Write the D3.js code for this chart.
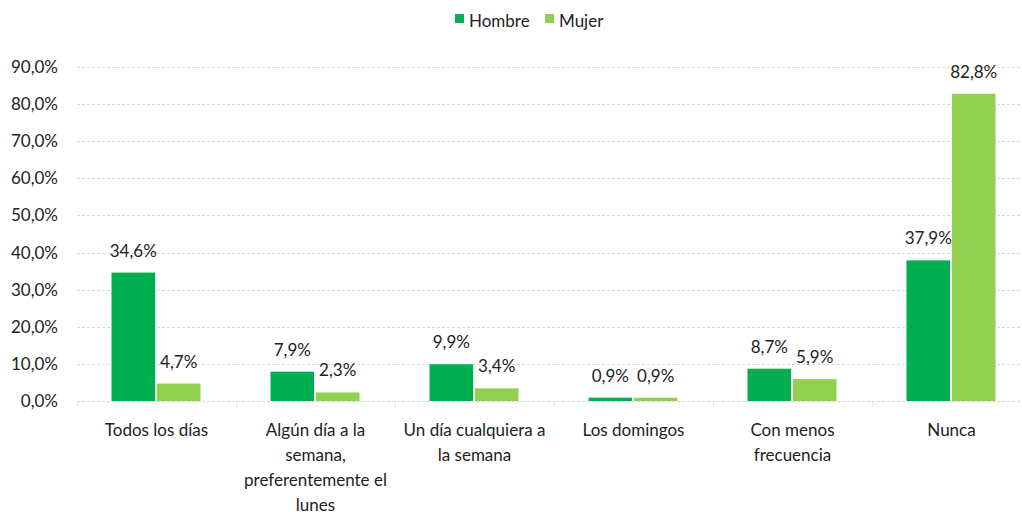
<!DOCTYPE html>
<html>
<head>
<meta charset="utf-8">
<script src="https://cdn.jsdelivr.net/npm/d3@7"></script>
<style>
  body { margin: 0; background: #fff; }
  text { font-family: Lato, "Open Sans", sans-serif; fill: #222; }
</style>
</head>
<body>
<svg id="vis"></svg>
<script>
const plotWidth = 1022;
const plotHeight = 512;

// data
const categories = ['Todos los días', 'Algún día a la\nsemana,\npreferentemente el\nlunes',
                    'Un día cualquiera a\nla semana', 'Los domingos', 'Con menos\nfrecuencia', 'Nunca'];
const seriesNames = ['Hombre', 'Mujer'];
const hombre = [34.6, 7.9, 9.9, 0.9, 8.7, 37.9];
const mujer = [4.7, 2.3, 3.4, 0.9, 5.9, 82.8];
const yTicks = [0, 10, 20, 30, 40, 50, 60, 70, 80, 90];
const colors = ['#00b050', '#92d050'];

const svg = d3.select('#vis')
            .attr('width', plotWidth)
            .attr('height', plotHeight);

const left = 77, bandW = 159;
const x = d3.scaleBand()
            .domain(categories)
            .range([left, left + bandW * categories.length])
            .paddingInner(0).paddingOuter(0);
const y = d3.scaleLinear().domain([0, 90]).range([401, 67]);
const x1 = d3.scaleBand().domain(seriesNames).range([34.5, 123.5]).paddingInner(0.04);

const fmt = v => d3.format('.1f')(v).replace('.', ',') + '%';

// gridlines
svg.append('g')
    .selectAll('line')
    .data(yTicks)
    .enter().append('line')
    .attr('x1', left).attr('x2', plotWidth)
    .attr('y1', d => Math.round(y(d)) + 0.5).attr('y2', d => Math.round(y(d)) + 0.5)
    .attr('stroke', '#d9d9d9')
    .attr('stroke-dasharray', '3,2');

// y axis labels
const yAxis = d3.axisLeft(y).tickValues(yTicks).tickFormat(fmt).tickSize(0).tickPadding(19);
svg.append('g')
    .attr('transform', `translate(${left},0)`)
    .call(yAxis)
    .call(g => g.select('.domain').remove())
    .selectAll('text')
    .style('font-size', '17px')
    .attr('fill', '#222');

// category ticks
const bounds = d3.range(categories.length + 1).map(i => left + i * bandW);
svg.append('g')
    .selectAll('line')
    .data(bounds)
    .enter().append('line')
    .attr('x1', d => d + 0.5).attr('x2', d => d + 0.5)
    .attr('y1', y(0)).attr('y2', y(0) + 6)
    .attr('stroke', '#d9d9d9')
    .attr('stroke-dasharray', '2,1');

// bars
const groups = svg.append('g')
    .selectAll('g')
    .data(categories)
    .enter().append('g')
    .attr('transform', d => `translate(${x(d)},0)`);

[hombre, mujer].forEach((vals, si) => {
    groups.append('rect')
        .attr('x', x1(seriesNames[si]))
        .attr('width', x1.bandwidth())
        .attr('y', (d, i) => y(vals[i]))
        .attr('height', (d, i) => y(0) - y(vals[i]))
        .attr('fill', colors[si]);
    groups.append('text')
        .attr('x', x1(seriesNames[si]) + x1.bandwidth() / 2)
        .attr('y', (d, i) => y(vals[i]) - 16)
        .attr('text-anchor', 'middle')
        .style('font-size', '17px')
        .text((d, i) => fmt(vals[i]));
});

// category labels
groups.append('text')
    .attr('text-anchor', 'middle')
    .style('font-size', '17px')
    .each(function(d) {
        const lines = d.split('\n');
        d3.select(this).selectAll('tspan')
            .data(lines)
            .enter().append('tspan')
            .attr('x', bandW / 2)
            .attr('y', (l, i) => 436 + i * 25)
            .text(l => l);
    });

// legend
const legend = svg.append('g');
const legendX = [455, 545];
seriesNames.forEach((name, i) => {
    legend.append('rect')
        .attr('x', legendX[i]).attr('y', 14)
        .attr('width', 9).attr('height', 9)
        .attr('fill', colors[i]);
    legend.append('text')
        .attr('x', legendX[i] + 14).attr('y', 27)
        .style('font-size', '17px')
        .text(name);
});
</script>
</body>
</html>
